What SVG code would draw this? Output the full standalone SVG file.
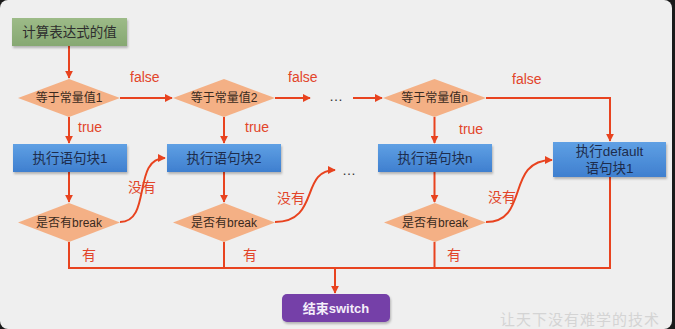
<svg xmlns="http://www.w3.org/2000/svg" width="675" height="329" viewBox="0 0 675 329">
<defs>
<style>
.ln{fill:none;stroke:#e8431f;stroke-width:2}
.lb{font-family:"Liberation Sans","Noto Sans CJK SC",sans-serif;font-size:14px;fill:#e2452a}
.dm{fill:#f4b085}
.dt{font-family:"Liberation Sans","Noto Sans CJK SC",sans-serif;font-size:12px;fill:#3a2a20;text-anchor:middle}
.bx{fill:url(#gb)}
.bt{font-family:"Liberation Sans","Noto Sans CJK SC",sans-serif;font-size:13.5px;fill:#1d2c4c;text-anchor:middle}
</style>
<linearGradient id="gb" x1="0" y1="0" x2="0" y2="1"><stop offset="0" stop-color="#5fa0e4"/><stop offset="1" stop-color="#3f7fcf"/></linearGradient>
<linearGradient id="gg" x1="0" y1="0" x2="0" y2="1"><stop offset="0" stop-color="#9dbb88"/><stop offset="1" stop-color="#86a872"/></linearGradient>
<filter id="sh" x="-10%" y="-20%" width="120%" height="150%"><feDropShadow dx="1" dy="2" stdDeviation="1.2" flood-color="#000" flood-opacity="0.25"/></filter>
<marker id="ah" viewBox="0 0 10 10" refX="9" refY="5" markerWidth="4" markerHeight="4" orient="auto"><path d="M0,0 L10,5 L0,10 z" fill="#e8431f"/></marker>
</defs>
<rect width="675" height="329" fill="#1a1a1a"/>
<rect x="0" y="0" width="672" height="329" rx="8" fill="#efefef"/>

<g id="connectors">
<path class="ln" d="M69,46 V78" marker-end="url(#ah)"/>
<path class="ln" d="M120,98 H172" marker-end="url(#ah)"/>
<path class="ln" d="M275,98 H310" marker-end="url(#ah)"/>
<path class="ln" d="M353,98 H382" marker-end="url(#ah)"/>
<path class="ln" d="M486,98 H610 V141" marker-end="url(#ah)"/>
<path class="ln" d="M69,117 V143" marker-end="url(#ah)"/>
<path class="ln" d="M224,117 V143" marker-end="url(#ah)"/>
<path class="ln" d="M434.5,117 V143" marker-end="url(#ah)"/>
<path class="ln" d="M69,172 V202" marker-end="url(#ah)"/>
<path class="ln" d="M224,172 V202" marker-end="url(#ah)"/>
<path class="ln" d="M434.5,172 V202" marker-end="url(#ah)"/>
<path class="ln" d="M120,222 C152,222 132,158 165,158" marker-end="url(#ah)"/>
<path class="ln" d="M275,222 C320,222 300,170 335,170" marker-end="url(#ah)"/>
<path class="ln" d="M486,222 C530,222 505,160 552,160" marker-end="url(#ah)"/>
<path class="ln" d="M69,242 V268 H610 V177"/>
<path class="ln" d="M224,242 V268"/>
<path class="ln" d="M434.5,242 V268"/>
<path class="ln" d="M335,268 V293" marker-end="url(#ah)"/>
<text class="lb" x="130" y="82">false</text>
<text class="lb" x="288" y="82">false</text>
<text class="lb" x="512" y="84">false</text>
<text class="lb" x="78" y="132">true</text>
<text class="lb" x="245" y="132">true</text>
<text class="lb" x="459" y="134">true</text>
<text class="lb" x="128" y="192">没有</text>
<text class="lb" x="277" y="203">没有</text>
<text class="lb" x="488" y="202">没有</text>
<text class="lb" x="82" y="260">有</text>
<text class="lb" x="243" y="260">有</text>
<text class="lb" x="447" y="260">有</text>
</g>

<g id="start">
<rect x="12" y="18" width="115" height="28" fill="url(#gg)" filter="url(#sh)"/>
<text x="69.5" y="37" font-family="'Noto Sans CJK SC',sans-serif" font-size="13.5" fill="#2e2e2e" text-anchor="middle">计算表达式的值</text>
</g>

<g id="cond1"><polygon class="dm" points="18,98 69,79 120,98 69,117"/><text class="dt" x="69" y="102">等于常量值1</text></g>
<g id="cond2"><polygon class="dm" points="173,98 224,79 275,98 224,117"/><text class="dt" x="224" y="102">等于常量值2</text></g>
<g id="dots1"><text x="336" y="101" font-family="'Liberation Sans',sans-serif" font-size="14" fill="#333" text-anchor="middle">…</text></g>
<g id="condn"><polygon class="dm" points="383,98 434.5,79 486,98 434.5,117"/><text class="dt" x="434.5" y="102">等于常量值n</text></g>

<g id="block1"><rect class="bx" x="13" y="144" width="114" height="28" filter="url(#sh)"/><text class="bt" x="70" y="163">执行语句块1</text></g>
<g id="block2"><rect class="bx" x="167" y="144" width="114" height="28" filter="url(#sh)"/><text class="bt" x="224" y="163">执行语句块2</text></g>
<g id="dots2"><text x="349" y="175" font-family="'Liberation Sans',sans-serif" font-size="14" fill="#333" text-anchor="middle">…</text></g>
<g id="blockn"><rect class="bx" x="378" y="144" width="114" height="28" filter="url(#sh)"/><text class="bt" x="435" y="163">执行语句块n</text></g>
<g id="default"><rect class="bx" x="553" y="142" width="113" height="35" filter="url(#sh)"/><text class="bt" x="609.5" y="156">执行default</text><text class="bt" x="609.5" y="173">语句块1</text></g>

<g id="brk1"><polygon class="dm" points="18,222.5 69,203 120,222.5 69,242"/><text class="dt" x="69" y="227">是否有break</text></g>
<g id="brk2"><polygon class="dm" points="173,222.5 224,203 275,222.5 224,242"/><text class="dt" x="224" y="227">是否有break</text></g>
<g id="brkn"><polygon class="dm" points="384,222.5 435,203 486,222.5 435,242"/><text class="dt" x="435" y="227">是否有break</text></g>

<g id="end"><rect x="282" y="294" width="108" height="28" rx="5" fill="#7440a8" filter="url(#sh)"/><text x="336" y="313" font-family="'Liberation Sans','Noto Sans CJK SC',sans-serif" font-size="13" font-weight="bold" fill="#f4eefa" text-anchor="middle">结束switch</text></g>

<text x="580" y="325" font-family="'Noto Sans CJK SC',sans-serif" font-size="15" fill="#d4d4d4" text-anchor="middle" letter-spacing="1">让天下没有难学的技术</text>
</svg>
